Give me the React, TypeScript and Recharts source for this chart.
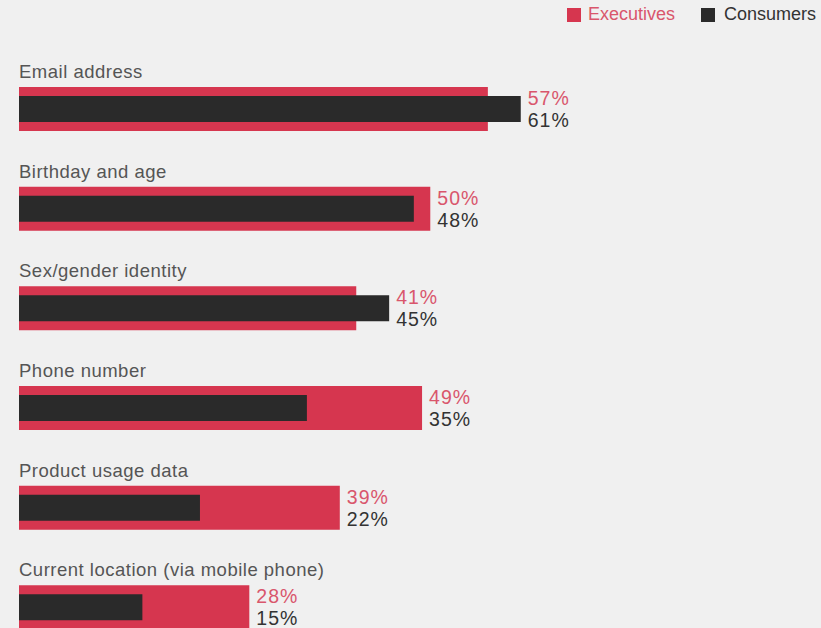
import { BarChart, Bar, XAxis, YAxis, LabelList } from 'recharts';

const categories = [
  'Email address',
  'Birthday and age',
  'Sex/gender identity',
  'Phone number',
  'Product usage data',
  'Current location (via mobile phone)',
];
const executives = [57, 50, 41, 49, 39, 28];
const consumers = [61, 48, 45, 35, 22, 15];

const RED = '#d6364f';
const DARK = '#2a2a2a';
const FONT = '"Liberation Sans", Arial, sans-serif';

const data = categories.map((name, i) => ({
  name,
  executives: executives[i],
  consumers: consumers[i],
}));

// Category name above the bars, and both percentages after whichever bar is longer
const RowLabels = (props: any) => {
  const { x, y, width, index } = props;
  const e = executives[index];
  const c = consumers[index];
  const end = x + (width * Math.max(e, c)) / e + 7;
  return (
    <g fontFamily={FONT}>
      <text x={x} y={y - 9} fill="#555" fontSize={18.5} letterSpacing={0.5}>
        {categories[index]}
      </text>
      <text x={end} y={y + 18} fill="#d9566c" fontSize={19.5} letterSpacing={1}>{`${e}%`}</text>
      <text x={end} y={y + 40} fill="#333" fontSize={19.5} letterSpacing={1}>{`${c}%`}</text>
    </g>
  );
};

const LegendBox = () => (
  <div
    style={{
      position: 'absolute',
      top: 4,
      left: 567,
      display: 'flex',
      alignItems: 'center',
      fontFamily: FONT,
      fontSize: 18,
    }}
  >
    <span style={{ width: 14, height: 14, background: RED, display: 'inline-block', marginRight: 7 }} />
    <span style={{ color: '#d9566c', marginRight: 26 }}>Executives</span>
    <span style={{ width: 14, height: 14, background: DARK, display: 'inline-block', marginRight: 9 }} />
    <span style={{ color: '#333' }}>Consumers</span>
  </div>
);

export default function App() {
  return (
    <div style={{ position: 'relative', width: 821, height: 628, overflow: 'hidden', background: '#f0f0f0' }}>
      <style>{'body{margin:0}'}</style>
      <LegendBox />
      <BarChart
        width={821}
        height={660}
        data={data}
        layout="vertical"
        margin={{ top: 59, right: 0, left: 19, bottom: 3 }}
      >
        <XAxis type="number" domain={[0, 97.5]} hide />
        <YAxis yAxisId="exec" type="category" dataKey="name" hide />
        <YAxis yAxisId="cons" type="category" dataKey="name" hide />
        <Bar yAxisId="exec" dataKey="executives" fill={RED} barSize={44} isAnimationActive={false}>
          <LabelList dataKey="executives" content={<RowLabels />} />
        </Bar>
        <Bar yAxisId="cons" dataKey="consumers" fill={DARK} barSize={26} isAnimationActive={false} />
      </BarChart>
    </div>
  );
}
